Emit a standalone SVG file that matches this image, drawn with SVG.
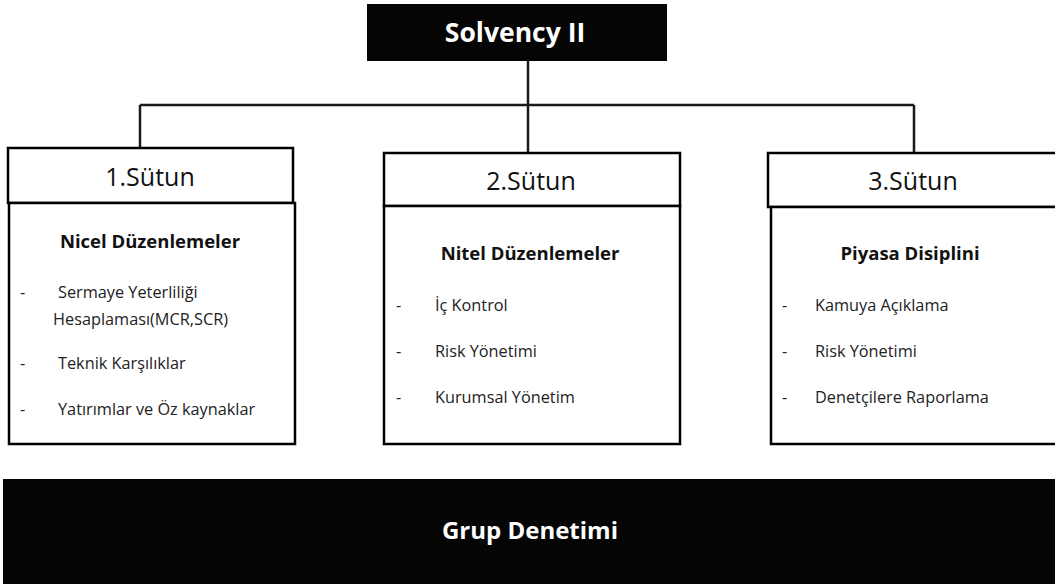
<svg xmlns="http://www.w3.org/2000/svg" width="1055" height="588" viewBox="0 0 1055 588">
<style>
.box{fill:#fff;stroke:#000;stroke-width:2.5}
.dark{fill:#050505}
.conn{stroke:#1a1a1a;stroke-width:2.5;fill:none}
text{font-family:"Open Sans","Liberation Sans",sans-serif}
.head{font-size:25px;fill:#111;text-anchor:middle}
.title{font-size:18.5px;font-weight:bold;fill:#111;text-anchor:middle}
.item{font-size:16.3px;fill:#222}
.white{font-size:24px;font-weight:bold;fill:#fff;text-anchor:middle}
.big{font-size:26.5px}
</style>
<rect width="1055" height="588" fill="#fff"/>
<g id="connectors">
<path class="conn" d="M528 61V105M140 105H914M140 105V148M528 105V153M914 105V153"/>
</g>
<g id="solvency">
<rect class="dark" x="367" y="4" width="300" height="57"/>
<text class="white big" x="515" y="42">Solvency II</text>
</g>
<g id="sutun1">
<rect class="box" x="8" y="148" width="285" height="55"/>
<rect class="box" x="9" y="203" width="286" height="241"/>
<text class="head" x="150" y="186">1.Sütun</text>
<text class="title" x="150" y="248">Nicel Düzenlemeler</text>
<text class="item" x="20" y="298">-</text>
<text class="item" x="58" y="298">Sermaye Yeterliliği</text>
<text class="item" x="53" y="325">Hesaplaması(MCR,SCR)</text>
<text class="item" x="20" y="369">-</text>
<text class="item" x="58" y="369">Teknik Karşılıklar</text>
<text class="item" x="20" y="415">-</text>
<text class="item" x="58" y="415">Yatırımlar ve Öz kaynaklar</text>
</g>
<g id="sutun2">
<rect class="box" x="384" y="153" width="296" height="53"/>
<rect class="box" x="384" y="206" width="296" height="238"/>
<text class="head" x="531" y="190">2.Sütun</text>
<text class="title" x="530" y="260">Nitel Düzenlemeler</text>
<text class="item" x="396" y="311">-</text>
<text class="item" x="435" y="311">İç Kontrol</text>
<text class="item" x="396" y="357">-</text>
<text class="item" x="435" y="357">Risk Yönetimi</text>
<text class="item" x="396" y="403">-</text>
<text class="item" x="435" y="403">Kurumsal Yönetim</text>
</g>
<g id="sutun3">
<rect class="box" x="768" y="153" width="290" height="54"/>
<rect class="box" x="771" y="207" width="290" height="237"/>
<text class="head" x="913" y="190">3.Sütun</text>
<text class="title" x="910" y="260">Piyasa Disiplini</text>
<text class="item" x="782" y="311">-</text>
<text class="item" x="815" y="311">Kamuya Açıklama</text>
<text class="item" x="782" y="357">-</text>
<text class="item" x="815" y="357">Risk Yönetimi</text>
<text class="item" x="782" y="403">-</text>
<text class="item" x="815" y="403">Denetçilere Raporlama</text>
</g>
<g id="grup">
<rect class="dark" x="3" y="479" width="1055" height="105"/>
<text class="white" x="530" y="539">Grup Denetimi</text>
</g>
</svg>
